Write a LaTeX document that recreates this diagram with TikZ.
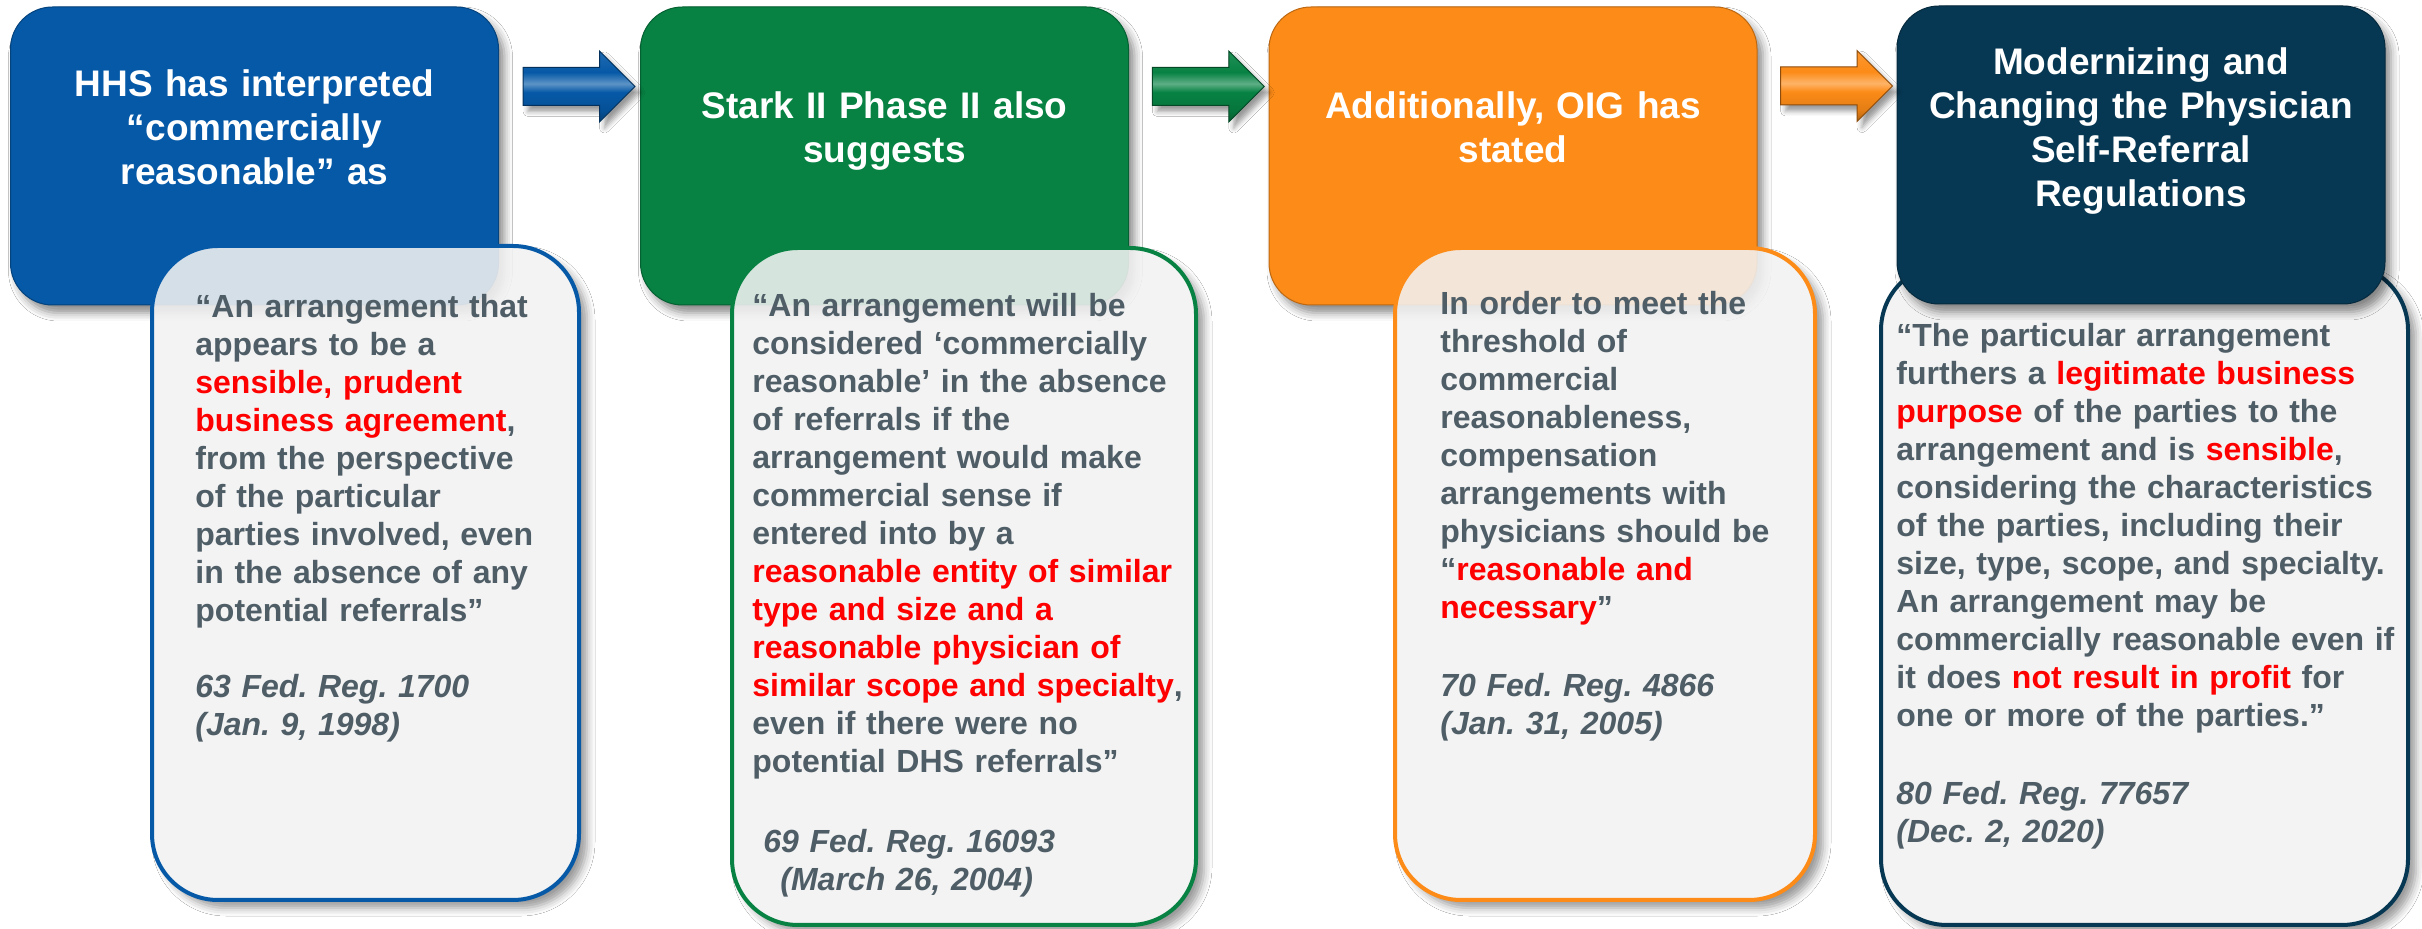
\documentclass[tikz,border=0pt]{standalone}
\usepackage{fontspec}
\setmainfont{Liberation Sans}
\usetikzlibrary{shapes.arrows,shadows.blur,calc}
\frenchspacing

% palette
\definecolor{hhsblue}{HTML}{0659A7}
\definecolor{starkgreen}{HTML}{078243}
\definecolor{oigorange}{HTML}{FC8B17}
\definecolor{regnavy}{HTML}{073853}
\definecolor{quotegray}{HTML}{4E5D66}
\definecolor{quotered}{HTML}{FF0000}
\definecolor{quotefill}{HTML}{F2F2F2}

% bevelled fills for the header panels and the block arrows
\newcommand\makebevel[1]{%
  \pgfdeclareverticalshading{panel#1}{100bp}{%
    color(0bp)=(#1!65!black); color(2bp)=(#1!85!black); color(5bp)=(#1);
    color(91bp)=(#1); color(95bp)=(#1!80!white); color(98bp)=(#1!90!white);
    color(100bp)=(#1!85!black)}%
  \pgfdeclareverticalshading{arrow#1}{100bp}{%
    color(0bp)=(#1!50!black); color(23bp)=(#1!65!black); color(33bp)=(#1!90!black);
    color(46bp)=(#1); color(52bp)=(#1!65!white); color(60bp)=(#1);
    color(77bp)=(#1!88!white); color(100bp)=(#1!75!white)}%
}
\makebevel{hhsblue}
\makebevel{starkgreen}
\makebevel{oigorange}
\makebevel{regnavy}

\newcommand\redtxt[1]{\textcolor{quotered}{#1}}

\tikzset{
  panel/.style={rectangle, rounded corners=21pt, minimum width=244pt, minimum height=149pt,
    inner sep=0pt, shade, shading=panel#1, draw=#1!75!black, line width=0.5pt,
    blur shadow={shadow xshift=3pt, shadow yshift=-4pt, shadow blur radius=4pt, shadow opacity=45}},
  paneltext/.style={anchor=base, inner sep=0pt, text width=235pt, align=center, text=white,
    font=\fontsize{18.5pt}{22pt}\selectfont\bfseries},
  % card outline shared by the backing and the translucent face
  cardshape/.style={rectangle, rounded corners=33pt, inner sep=0pt},
  cardback/.style={cardshape, fill=white,
    blur shadow={shadow xshift=4pt, shadow yshift=-4pt, shadow blur radius=4pt, shadow opacity=40}},
  cardface/.style={cardshape, draw=#1, line width=2pt, fill=quotefill, fill opacity=0.88},
  quotetext/.style={anchor=base west, inner sep=0pt, text width=250pt, align=left, text=quotegray,
    font=\fontsize{16pt}{19pt}\selectfont\bfseries},
  flowarrow/.style={single arrow, single arrow head extend=8.25pt, inner xsep=0pt, inner ysep=9.25pt,
    minimum height=56pt, shade, shading=arrow#1, draw=#1!55!black, line width=0.5pt,
    blur shadow={shadow xshift=2.5pt, shadow yshift=-3pt, shadow blur radius=2.5pt, shadow opacity=40}},
  card1/.style={minimum width=213.5pt, minimum height=327pt},
  card2/.style={minimum width=232pt,   minimum height=338.5pt},
  card3/.style={minimum width=210pt,   minimum height=326pt},
  card4/.style={minimum width=263.5pt, minimum height=330.5pt},
}

\begin{document}
\begin{tikzpicture}[x=0.5pt, y=-0.5pt]
\useasboundingbox (0,0) rectangle (2422,929);
\fill[white] (0,0) rectangle (2422,929);

% card backings and shadows go underneath the panels
\node[cardback, card1] (q1) at (365.5,573) {};
\node[cardback, card2] (q2) at (964,586.5) {};
\node[cardback, card3] (q3) at (1605,574) {};
\node[cardback, card4] (q4) at (2144.5,594.5) {};
% the last card is covered by its panel
\node[cardface=regnavy, card4] (q4f) at (q4.center) {};

% header panels
\node[panel=hhsblue]    (h1) at (254.5,156) {};
\node[panel=starkgreen] (h2) at (884.5,156) {};
\node[panel=oigorange]  (h3) at (1513,156) {};
\node[panel=regnavy]    (h4) at (2141,155) {};

\node[paneltext] (h1t) at (254.5,97) {HHS has interpreted\\“commercially\\reasonable” as};
\node[paneltext] (h2t) at (884.5,119) {Stark II Phase II also\\suggests};
\node[paneltext] (h3t) at (1513,119) {Additionally, OIG has\\stated};
\node[paneltext] (h4t) at (2141,75) {Modernizing and\\Changing the Physician\\Self-Referral\\Regulations};

% block arrows between the panels
\node[flowarrow=hhsblue]    (a1) at ($(h1.north east)!0.5!(h2.north west)+(0,80)$) {};
\node[flowarrow=starkgreen] (a2) at ($(h2.north east)!0.5!(h3.north west)+(0,80)$) {};
\node[flowarrow=oigorange]  (a3) at ($(h3.north east)!0.5!(h4.north west)+(0,80)$) {};

% translucent card faces laid over the first three panels
\node[cardface=hhsblue,    card1] (q1f) at (q1.center) {};
\node[cardface=starkgreen, card2] (q2f) at (q2.center) {};
\node[cardface=oigorange,  card3] (q3f) at (q3.center) {};

\node[quotetext] (q1t) at (195,318) {“An arrangement that\\
appears to be a\\
\redtxt{sensible, prudent}\\
\redtxt{business agreement},\\
from the perspective\\
of the particular\\
parties involved, even\\
in the absence of any\\
potential referrals”\\[19pt]
\textit{63 Fed. Reg. 1700}\\
\textit{(Jan. 9, 1998)}};

\node[quotetext] (q2t) at (752,317) {“An arrangement will be\\
considered ‘commercially\\
reasonable’ in the absence\\
of referrals if the\\
arrangement would make\\
commercial sense if\\
entered into by a\\
\redtxt{reasonable entity of similar}\\
\redtxt{type and size and a}\\
\redtxt{reasonable physician of}\\
\redtxt{similar scope and specialty},\\
even if there were no\\
potential DHS referrals”\\[21pt]
\hspace*{5.5pt}\textit{69 Fed. Reg. 16093}\\
\hspace*{14pt}\textit{(March 26, 2004)}};

\node[quotetext] (q3t) at (1440,315) {In order to meet the\\
threshold of\\
commercial\\
reasonableness,\\
compensation\\
arrangements with\\
physicians should be\\
“\redtxt{reasonable and}\\
\redtxt{necessary}”\\[20pt]
\textit{70 Fed. Reg. 4866}\\
\textit{(Jan. 31, 2005)}};

\node[quotetext] (q4t) at (1896,347) {“The particular arrangement\\
furthers a \redtxt{legitimate business}\\
\redtxt{purpose} of the parties to the\\
arrangement and is \redtxt{sensible},\\
considering the characteristics\\
of the parties, including their\\
size, type, scope, and specialty.\\
An arrangement may be\\
commercially reasonable even if\\
it does \redtxt{not result in profit} for\\
one or more of the parties.”\\[20pt]
\textit{80 Fed. Reg. 77657}\\
\textit{(Dec. 2, 2020)}};
\end{tikzpicture}
\end{document}
